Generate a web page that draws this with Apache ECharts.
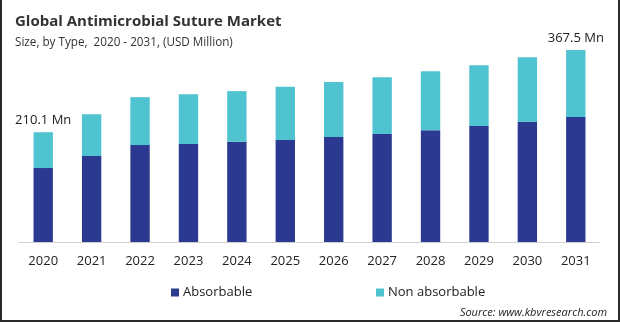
<!DOCTYPE html>
<html><head><meta charset="utf-8">
<script src="https://cdn.jsdelivr.net/npm/echarts@6/dist/echarts.min.js"></script>
<style>
html,body{margin:0;padding:0;background:#fff;}
#wrap{position:relative;width:620px;height:322px;box-sizing:border-box;border-left:2px solid #2a2a2a;border-right:2px solid #2a2a2a;border-bottom:2px solid #2a2a2a;}
#chart{position:absolute;left:-2px;top:0;width:620px;height:322px;}
</style></head>
<body><div id="wrap"><div id="chart"></div></div>
<script>
const years = ['2020','2021','2022','2023','2024','2025','2026','2027','2028','2029','2030','2031'];
const absorbable = [141.5,164.4,185.5,187.4,191.8,195.0,200.8,206.5,214.1,221.8,230.0,239.0];
const nonAbsorbable = [68.6,80.3,91.7,95.6,96.9,102.0,105.2,109.0,112.9,116.6,123.7,128.5];
const endLabels = {0:'210.1 Mn', 11:'367.5 Mn'};
const FONT = '"Open Sans", "Noto Sans", sans-serif';

const chart = echarts.init(document.getElementById('chart'), null, {renderer:'canvas'});
chart.setOption({
  animation:false,
  textStyle:{fontFamily:FONT},
  title:[
    {text:'Global Antimicrobial Suture Market', left:10, top:9,
     textStyle:{fontSize:15, fontWeight:'bold', color:'#333', fontFamily:FONT}},
    {text:'Size, by Type,  2020 - 2031, (USD Million)', left:10, top:32,
     textStyle:{fontSize:11.7, fontWeight:'normal', color:'#333', fontFamily:FONT}},
    {text:'Source: www.kbvresearch.com', right:8, top:302,
     textStyle:{fontSize:11, fontWeight:'normal', fontStyle:'italic', color:'#222', fontFamily:FONT}}
  ],
  legend:[
    {data:['Absorbable'], left:166, top:281, itemWidth:8, itemHeight:8, itemGap:4, icon:'rect',
     textStyle:{fontSize:13, color:'#222', fontFamily:FONT, padding:[0,0,0,-1]}},
    {data:['Non absorbable'], left:371, top:281, itemWidth:8, itemHeight:8, itemGap:4, icon:'rect',
     textStyle:{fontSize:13, color:'#222', fontFamily:FONT, padding:[0,0,0,-1]}}
  ],
  grid:{left:19, right:20, top:33, bottom:80},
  xAxis:{type:'category', data:years,
    axisLine:{lineStyle:{color:'#d0d0d0'}}, axisTick:{show:false},
    axisLabel:{color:'#222', fontSize:13, margin:13, fontFamily:FONT}},
  yAxis:{type:'value', min:0, max:400, show:false, splitLine:{show:false}},
  series:[
    {name:'Absorbable', type:'bar', stack:'t', barWidth:'40%', data:absorbable,
     itemStyle:{color:'#2B3990'}},
    {name:'Non absorbable', type:'bar', stack:'t', barWidth:'40%', data:nonAbsorbable,
     itemStyle:{color:'#4FC3CF'},
     label:{show:true, position:'top', distance:5, color:'#222', fontSize:13, fontFamily:FONT,
       formatter:p => endLabels[p.dataIndex] || ''}}
  ]
});
</script></body></html>
